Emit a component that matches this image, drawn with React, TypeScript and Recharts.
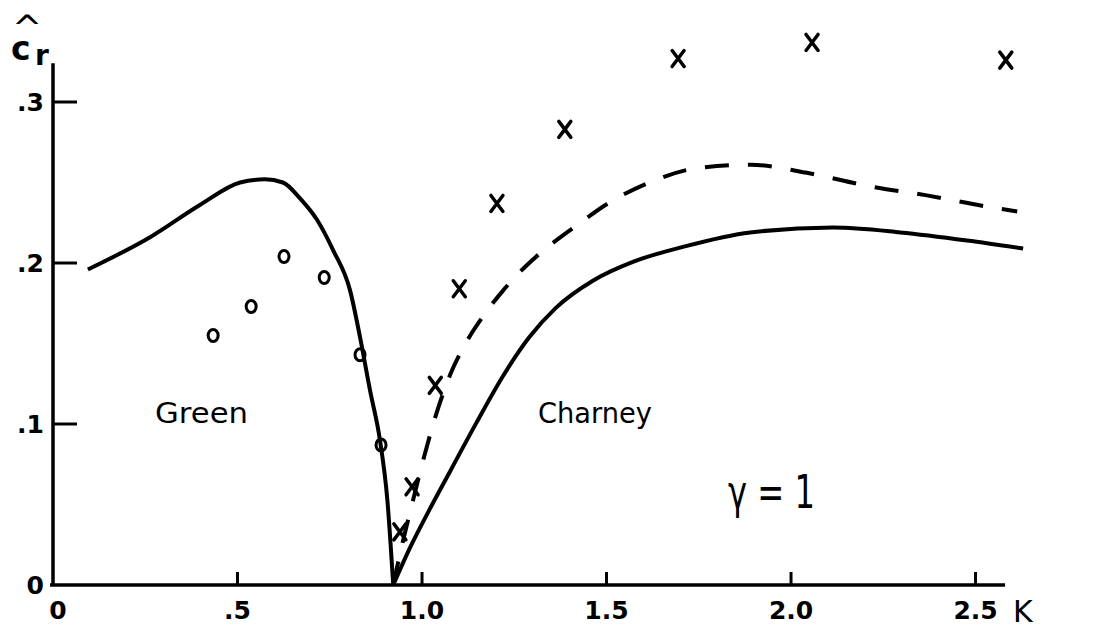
import { ComposedChart, Line, Scatter, XAxis, YAxis, ReferenceLine } from 'recharts';

// phase speed c_r against wavenumber K, gamma = 1
const greenCurve = [
  { k: 0.0945, c: 0.196 },
  { k: 0.263, c: 0.216 },
  { k: 0.398, c: 0.236 },
  { k: 0.507, c: 0.25 },
  { k: 0.574, c: 0.252 },
  { k: 0.623, c: 0.25 },
  { k: 0.67, c: 0.24 },
  { k: 0.715, c: 0.227 },
  { k: 0.759, c: 0.208 },
  { k: 0.805, c: 0.183 },
  { k: 0.832, c: 0.154 },
  { k: 0.859, c: 0.121 },
  { k: 0.886, c: 0.09 },
  { k: 0.906, c: 0.053 },
  { k: 0.922, c: 0 },
];

const charneyCurve = [
  { k: 0.922, c: 0 },
  { k: 0.965, c: 0.022 },
  { k: 1.016, c: 0.045 },
  { k: 1.077, c: 0.071 },
  { k: 1.148, c: 0.101 },
  { k: 1.22, c: 0.13 },
  { k: 1.291, c: 0.154 },
  { k: 1.362, c: 0.172 },
  { k: 1.463, c: 0.189 },
  { k: 1.575, c: 0.201 },
  { k: 1.707, c: 0.21 },
  { k: 1.889, c: 0.219 },
  { k: 2.114, c: 0.222 },
  { k: 2.296, c: 0.219 },
  { k: 2.477, c: 0.214 },
  { k: 2.629, c: 0.209 },
];

const dashedCurve = [
  { k: 0.922, c: 0 },
  { k: 0.945, c: 0.024 },
  { k: 0.976, c: 0.053 },
  { k: 1.006, c: 0.08 },
  { k: 1.037, c: 0.105 },
  { k: 1.077, c: 0.131 },
  { k: 1.118, c: 0.15 },
  { k: 1.169, c: 0.168 },
  { k: 1.22, c: 0.183 },
  { k: 1.281, c: 0.198 },
  { k: 1.352, c: 0.212 },
  { k: 1.423, c: 0.224 },
  { k: 1.504, c: 0.237 },
  { k: 1.616, c: 0.25 },
  { k: 1.748, c: 0.259 },
  { k: 1.89, c: 0.261 },
  { k: 2.043, c: 0.256 },
  { k: 2.205, c: 0.248 },
  { k: 2.368, c: 0.242 },
  { k: 2.531, c: 0.235 },
  { k: 2.613, c: 0.232 },
];

// measured points: circles (Green), crosses (Charney)
const circlePoints = [
  { k: 0.434, c: 0.155 },
  { k: 0.537, c: 0.173 },
  { k: 0.626, c: 0.204 },
  { k: 0.735, c: 0.191 },
  { k: 0.832, c: 0.143 },
  { k: 0.889, c: 0.087 },
];

const crossPoints = [
  { k: 0.94, c: 0.033 },
  { k: 0.973, c: 0.061 },
  { k: 1.036, c: 0.124 },
  { k: 1.101, c: 0.184 },
  { k: 1.203, c: 0.237 },
  { k: 1.387, c: 0.283 },
  { k: 1.694, c: 0.327 },
  { k: 2.057, c: 0.337 },
  { k: 2.582, c: 0.326 },
];

const xTicks = [0, 0.5, 1, 1.5, 2, 2.5];
const xTickLabels = ['0', '.5', '1.0', '1.5', '2.0', '2.5'];
const yTicks = [0, 0.1, 0.2, 0.3];
const yTickLabels = ['0', '.1', '.2', '.3'];

const ink = '#000';
const font = '"DejaVu Sans", sans-serif';

const XTick = (props: any) => {
  const { x, y, payload } = props;
  const i = xTicks.indexOf(payload.value);
  return (
    <g>
      {payload.value !== 0 && (
        <line x1={x} y1={y} x2={x} y2={y - 13} stroke={ink} strokeWidth={3} />
      )}
      <text x={x + (payload.value === 0 ? 5 : 0)} y={y + 34} textAnchor="middle" fontSize={25} fontWeight="bold" fontFamily={font} fill={ink}>
        {xTickLabels[i]}
      </text>
    </g>
  );
};

const YTick = (props: any) => {
  const { x, y, payload } = props;
  const i = yTicks.indexOf(payload.value);
  return (
    <g>
      {payload.value !== 0 && (
        <line x1={x} y1={y} x2={x + 24} y2={y} stroke={ink} strokeWidth={3} />
      )}
      <text x={x - 9} y={y + 9} textAnchor="end" fontSize={25} fontWeight="bold" fontFamily={font} fill={ink}>
        {yTickLabels[i]}
      </text>
    </g>
  );
};

const Cross = (p: any) => (
  <path
    d={`M${p.cx - 6},${p.cy - 8}L${p.cx + 6},${p.cy + 8}M${p.cx + 6},${p.cy - 8}L${p.cx - 6},${p.cy + 8}`}
    stroke={ink}
    strokeWidth={3.5}
    strokeLinecap="round"
    fill="none"
  />
);

const Ring = (p: any) => (
  <ellipse cx={p.cx} cy={p.cy} rx={5} ry={6} stroke={ink} strokeWidth={3} fill="none" />
);

export default function App() {
  return (
    <div style={{ position: 'fixed', left: 0, top: 0, width: 1103, height: 629, background: '#fff' }}>
      <ComposedChart width={1103} height={629} margin={{ top: 5.4, right: 38.9, bottom: 0, left: 0 }}>
        <XAxis
          type="number"
          dataKey="k"
          domain={[0, 2.74]}
          ticks={xTicks}
          axisLine={false}
          tickLine={false}
          tickSize={0}
          tickMargin={0}
          height={44}
          tick={<XTick />}
          allowDataOverflow
        />
        <YAxis
          type="number"
          dataKey="c"
          domain={[0, 0.36]}
          ticks={yTicks}
          axisLine={false}
          tickLine={false}
          tickSize={0}
          tickMargin={0}
          width={53}
          tick={<YTick />}
          allowDataOverflow
        />
        <ReferenceLine segment={[{ x: -0.008, y: 0 }, { x: 2.58, y: 0 }]} stroke={ink} strokeWidth={3.5} ifOverflow="visible" />
        <ReferenceLine segment={[{ x: 0, y: 0 }, { x: 0, y: 0.324 }]} stroke={ink} strokeWidth={3.5} ifOverflow="visible" />
        <Line data={greenCurve} dataKey="c" type="monotone" stroke={ink} strokeWidth={4} dot={false} isAnimationActive={false} />
        <Line data={charneyCurve} dataKey="c" type="monotone" stroke={ink} strokeWidth={4} dot={false} isAnimationActive={false} />
        <Line data={dashedCurve} dataKey="c" type="monotone" stroke={ink} strokeWidth={4} strokeDasharray="24 19" dot={false} isAnimationActive={false} />
        <Scatter data={circlePoints} dataKey="c" shape={<Ring />} isAnimationActive={false} />
        <Scatter data={crossPoints} dataKey="c" shape={<Cross />} isAnimationActive={false} />
        {/* axis title: c_r with a hat */}
        <text fontFamily={font} fill={ink}>
          <tspan x={12} y={40} fontSize={36}>^</tspan>
          <tspan x={11} y={60} fontSize={33} fontWeight="bold">c</tspan>
          <tspan x={35} y={65} fontSize={28} fontWeight="bold">r</tspan>
        </text>
        <text x={1013} y={622} fontSize={30} fontFamily={font} fill={ink}>K</text>
        <text x={155} y={423} fontSize={28} textLength={93} lengthAdjust="spacingAndGlyphs" fontFamily={font} fill={ink}>Green</text>
        <text x={538} y={423} fontSize={28} textLength={114} lengthAdjust="spacingAndGlyphs" fontFamily={font} fill={ink}>Charney</text>
        <text x={728} y={508} fontSize={46} textLength={87} lengthAdjust="spacingAndGlyphs" fontFamily={font} fill={ink}>γ = 1</text>
      </ComposedChart>
    </div>
  );
}
